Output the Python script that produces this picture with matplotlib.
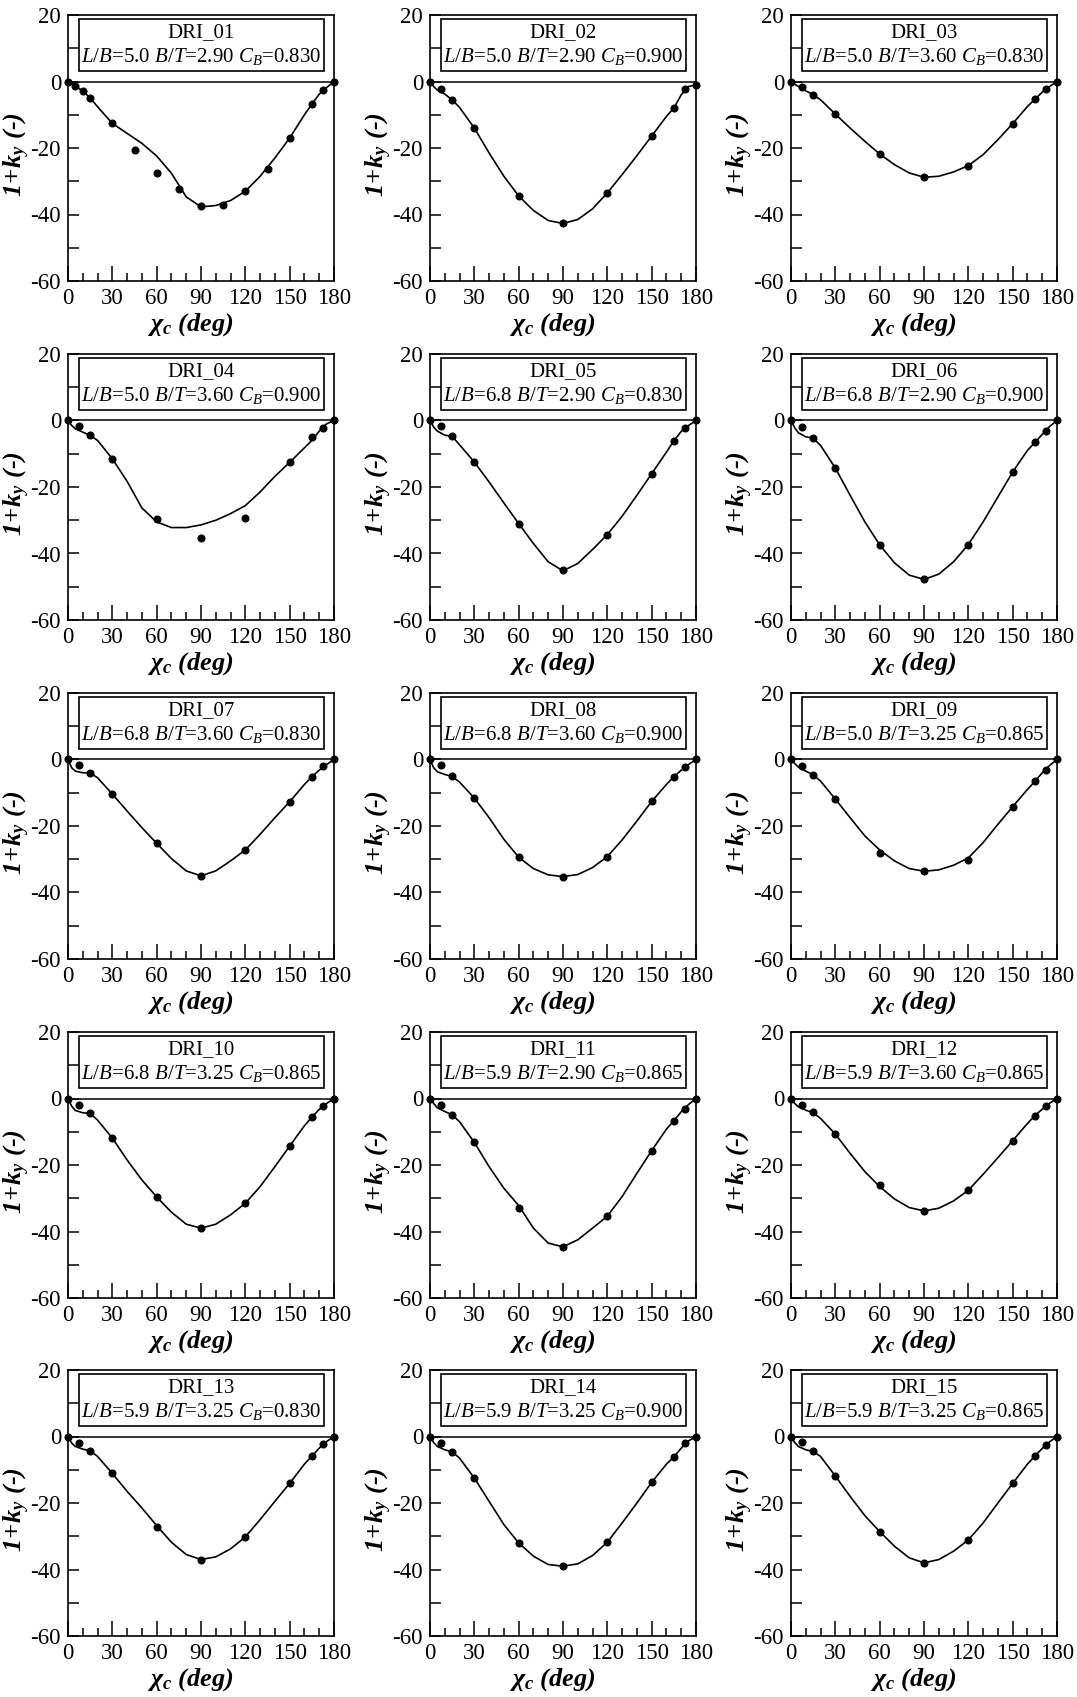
import matplotlib.pyplot as plt
from matplotlib.patches import Rectangle
from matplotlib.ticker import MultipleLocator

plt.rcParams['font.family'] = ['Liberation Serif', 'DejaVu Serif']
plt.rcParams['axes.unicode_minus'] = False
plt.rcParams['mathtext.fontset'] = 'custom'
plt.rcParams['mathtext.rm'] = 'Liberation Serif'
plt.rcParams['mathtext.it'] = 'Liberation Serif:italic'
plt.rcParams['mathtext.bf'] = 'Liberation Serif:bold'
plt.rcParams['mathtext.bfit'] = 'Liberation Serif:italic:bold'

# ---- data ----
names = ['DRI_%02d' % i for i in range(1, 16)]
lb = ['5.0', '5.0', '5.0', '5.0', '6.8', '6.8', '6.8', '6.8', '5.0', '6.8', '5.9', '5.9', '5.9', '5.9', '5.9']
bt = ['2.90', '2.90', '3.60', '3.60', '2.90', '2.90', '3.60', '3.60', '3.25', '3.25', '2.90', '3.60', '3.25', '3.25', '3.25']
cb = ['0.830', '0.900', '0.830', '0.900', '0.830', '0.900', '0.830', '0.900', '0.865', '0.865', '0.865', '0.865', '0.830', '0.900', '0.865']

# measured points
x_pts_01 = [0, 5, 10, 15, 30, 45, 60, 75, 90, 105, 120, 135, 150, 165, 172.5, 180]
x_pts = [0, 7.5, 15, 30, 60, 90, 120, 150, 165, 172.5, 180]
y_pts = [
    [0, -1.3, -2.9, -4.9, -12.6, -20.6, -27.6, -32.4, -37.4, -37.0, -32.9, -26.2, -17.1, -6.8, -2.7, 0],
    [0, -2.3, -5.5, -14.0, -34.4, -42.7, -33.5, -16.4, -8.0, -2.3, -1.0],
    [0, -1.7, -4.0, -9.8, -21.8, -28.8, -25.3, -12.7, -5.4, -2.3, 0],
    [0, -1.8, -4.4, -11.7, -29.5, -35.4, -29.3, -12.6, -5.1, -2.2, 0],
    [0, -1.8, -4.7, -12.5, -31.0, -45.1, -34.3, -16.0, -6.1, -2.2, 0],
    [0, -2.1, -5.3, -14.3, -37.4, -47.8, -37.3, -15.5, -6.6, -3.1, 0],
    [0, -1.8, -4.0, -10.4, -25.2, -35.0, -27.2, -12.7, -5.2, -2.1, 0],
    [0, -1.8, -5.1, -11.6, -29.4, -35.2, -29.2, -12.6, -5.2, -2.2, 0],
    [0, -2.0, -4.6, -11.9, -28.0, -33.6, -30.1, -14.2, -6.6, -3.1, 0],
    [0, -1.9, -4.4, -11.9, -29.6, -39.0, -31.5, -14.3, -5.6, -2.2, 0],
    [0, -2.1, -4.9, -13.2, -32.9, -44.6, -35.4, -15.7, -6.7, -3.1, 0],
    [0, -2.0, -4.2, -10.7, -26.0, -33.8, -27.6, -12.7, -5.2, -2.3, 0],
    [0, -2.0, -4.3, -11.1, -27.2, -37.0, -30.2, -14.1, -5.9, -2.3, 0],
    [0, -2.0, -4.6, -12.5, -32.1, -39.0, -31.8, -13.8, -6.2, -2.0, 0],
    [0, -1.8, -4.5, -11.9, -28.6, -38.0, -31.1, -14.1, -5.9, -2.7, 0],
]

# fitted curves
x_fit = [0, 2.5, 5, 10, 15, 20, 30, 40, 50, 60, 70, 80, 90, 100, 110, 120, 130, 140, 150, 160, 165, 170, 175, 180]
y_fit = [
    [0, -0.6, -1.3, -2.9, -4.9, -7.6, -12.6, -15.6, -18.6, -22.4, -27.6, -34.7, -37.7, -37.3, -35.8, -33.0, -28.5, -23.0, -17.0, -10.0, -6.8, -3.8, -1.8, 0],
    [0, -1.5, -2.6, -3.8, -5.5, -7.8, -14.0, -21.5, -28.5, -34.4, -38.8, -41.8, -42.7, -41.5, -38.3, -33.5, -28.0, -22.3, -16.4, -10.5, -8.0, -4.0, -1.5, -1.0],
    [0, -0.8, -1.5, -2.8, -4.0, -5.5, -9.8, -14.0, -18.0, -21.8, -25.0, -27.5, -28.8, -28.5, -27.2, -25.3, -22.0, -17.5, -12.7, -7.5, -5.4, -3.2, -1.5, 0],
    [0, -1.5, -2.5, -3.5, -4.5, -6.0, -11.5, -18.3, -26.3, -30.5, -32.2, -32.2, -31.4, -30.0, -28.0, -25.6, -21.5, -16.8, -12.6, -8.2, -6.0, -3.2, -1.0, 0],
    [0, -2.0, -3.2, -4.4, -4.8, -7.3, -12.5, -18.5, -24.8, -31.0, -37.0, -42.5, -45.2, -43.0, -38.8, -34.3, -28.8, -22.5, -16.0, -9.5, -6.1, -3.3, -1.5, 0],
    [0, -2.2, -3.7, -4.9, -5.3, -7.5, -14.3, -22.5, -30.5, -37.4, -42.8, -46.5, -47.8, -46.2, -42.5, -37.3, -30.5, -23.0, -15.5, -9.0, -6.6, -4.2, -1.8, 0],
    [0, -2.5, -3.5, -4.0, -4.0, -5.5, -10.4, -15.5, -20.5, -25.2, -29.8, -33.5, -35.0, -33.5, -30.5, -27.2, -22.5, -17.5, -12.7, -7.5, -5.2, -3.2, -1.5, 0],
    [0, -2.5, -3.7, -4.5, -5.1, -6.8, -11.6, -17.5, -24.0, -29.4, -32.8, -34.7, -35.2, -34.6, -32.5, -29.2, -24.2, -18.5, -12.6, -7.5, -5.2, -3.2, -1.5, 0],
    [0, -1.2, -2.3, -3.5, -4.6, -6.5, -11.9, -17.5, -23.0, -27.2, -30.5, -32.8, -33.6, -33.2, -31.8, -29.6, -25.0, -19.5, -14.2, -9.0, -6.6, -4.0, -1.8, 0],
    [0, -2.3, -3.6, -4.3, -4.5, -6.5, -11.9, -18.5, -24.5, -29.6, -34.2, -37.8, -39.0, -37.8, -35.0, -31.5, -26.5, -20.5, -14.3, -8.2, -5.6, -3.3, -1.5, 0],
    [0, -1.5, -2.8, -3.9, -4.9, -7.0, -13.2, -20.5, -27.0, -32.2, -39.0, -43.5, -44.6, -42.5, -39.0, -35.4, -29.5, -22.5, -15.7, -9.2, -6.7, -4.0, -1.8, 0],
    [0, -1.5, -2.5, -3.5, -4.3, -6.0, -10.7, -16.5, -22.0, -26.5, -30.2, -32.8, -33.8, -33.0, -30.8, -27.6, -22.8, -17.8, -12.7, -7.5, -5.2, -3.2, -1.4, 0],
    [0, -2.0, -3.0, -3.8, -4.3, -6.0, -11.1, -16.5, -21.5, -26.8, -31.8, -35.5, -37.0, -36.2, -33.8, -30.2, -25.0, -19.5, -14.1, -8.3, -5.9, -3.5, -1.5, 0],
    [0, -1.8, -3.0, -4.0, -4.6, -6.5, -12.5, -19.5, -26.5, -32.0, -36.0, -38.5, -39.0, -38.3, -35.8, -31.8, -26.0, -20.0, -13.8, -8.3, -6.2, -3.5, -1.3, 0],
    [0, -1.8, -3.0, -4.0, -4.5, -6.0, -11.9, -18.0, -23.8, -28.6, -33.0, -36.5, -38.0, -37.0, -34.5, -31.1, -26.0, -20.0, -14.1, -8.3, -5.9, -3.6, -1.6, 0],
]

W, H = 1077, 1697
fig = plt.figure(figsize=(W / 100, H / 100), dpi=100)

col_left = [68, 430, 791]
row_top = [15, 354, 693, 1032, 1370]
aw, ah = 266, 266

for i in range(15):
    r, c = divmod(i, 3)
    ax = fig.add_axes([col_left[c] / W, 1 - (row_top[r] + ah) / H, aw / W, ah / H])
    xp = x_pts_01 if i == 0 else x_pts
    ax.axhline(0, color='black', lw=1.1, zorder=1)
    ax.plot(x_fit, y_fit[i], color='black', lw=1.2, zorder=2)
    ax.plot(xp, y_pts[i], 'o', color='black', ms=4.8, zorder=3, clip_on=False)

    ax.set_xlim(0, 180)
    ax.set_ylim(-60, 20)
    ax.set_xticks(range(0, 181, 30))
    ax.xaxis.set_minor_locator(MultipleLocator(10))
    ax.set_yticks([-60, -40, -20, 0, 20])
    ax.yaxis.set_minor_locator(MultipleLocator(10))
    ax.tick_params(axis='x', which='major', direction='in', length=11, width=1.1, labelsize=16.5, pad=5)
    ax.tick_params(axis='x', which='minor', direction='in', length=6, width=1.1)
    ax.tick_params(axis='y', which='both', direction='in', length=8, width=1.1, labelsize=16.5, pad=5)
    for s in ax.spines.values():
        s.set_linewidth(1.2)

    ax.set_xlabel(r'$\mathbfit{\chi_c}$ (deg)', fontsize=19, fontweight='bold', style='italic')
    ax.xaxis.set_label_coords(0.46, -0.115)
    ax.set_ylabel(r'$\mathbfit{1\!+\!k_y}$ (-)', fontsize=19, fontweight='bold', style='italic')
    ax.yaxis.set_label_coords(-0.135, 0.474)

    ax.add_patch(Rectangle((0.041, 0.788), 0.921, 0.196, transform=ax.transAxes,
                           fill=False, edgecolor='black', lw=1.2, zorder=4))
    ax.text(0.5, 0.935, names[i], transform=ax.transAxes, ha='center', va='center', fontsize=15)
    ax.text(0.5, 0.845, r'$L/B$=%s $B/T$=%s $C_B$=%s' % (lb[i], bt[i], cb[i]),
            transform=ax.transAxes, ha='center', va='center', fontsize=15)

fig.savefig('out.png', dpi=100)
